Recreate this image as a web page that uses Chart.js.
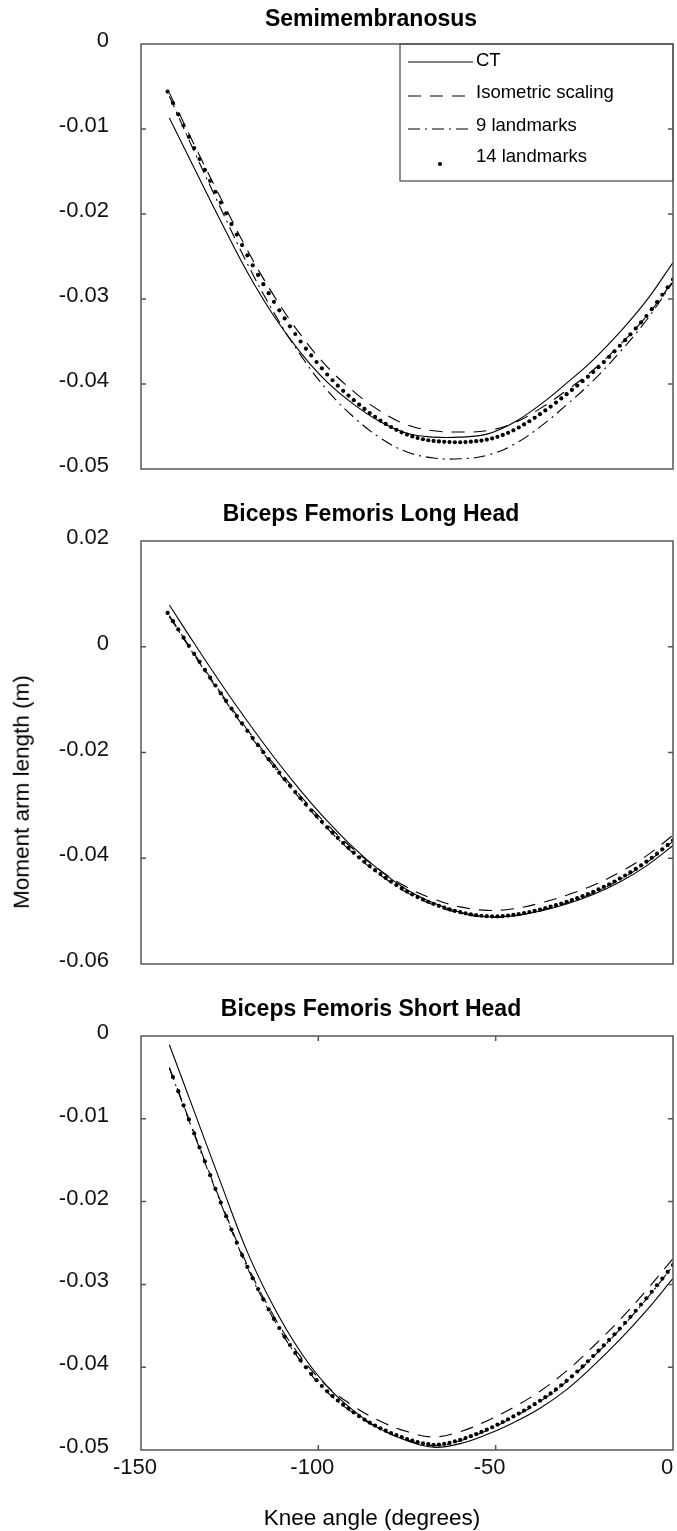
<!DOCTYPE html>
<html>
<head>
<meta charset="utf-8">
<title>Moment arm length vs knee angle</title>
<script src="https://cdn.jsdelivr.net/npm/chart.js@4.4.1/dist/chart.umd.min.js"></script>
<style>
  html, body { margin: 0; padding: 0; background: #fff; }
  body { width: 677px; height: 1531px; position: relative; overflow: hidden;
         font-family: "Liberation Sans", Arial, sans-serif; color: #000; }
  canvas { position: absolute; left: 0; }
  .lbl { position: absolute; white-space: nowrap; line-height: 1; transform: translate(-50%, -50%); }
  .ttl { left: 371px; font-size: 23px; font-weight: bold; }
  .axt { font-size: 22.5px; }
  .ylab { left: 22px; top: 792px; transform: translate(-50%, -50%) rotate(-90deg); }
</style>
</head>
<body>
<canvas id="semi" width="677" height="490" style="top:0"></canvas>
<canvas id="bflh" width="677" height="495" style="top:490px"></canvas>
<canvas id="bfsh" width="677" height="546" style="top:985px"></canvas>

<div class="lbl ttl" style="top:18px">Semimembranosus</div>
<div class="lbl ttl" style="top:513px">Biceps Femoris Long Head</div>
<div class="lbl ttl" style="top:1008px">Biceps Femoris Short Head</div>
<div class="lbl axt ylab">Moment arm length (m)</div>
<div class="lbl axt" style="left:372px; top:1518px">Knee angle (degrees)</div>

<script>
// knee angles (degrees) of the dotted "14 landmarks" samples
const dotAngles = [
  -142.5, -141, -139.5, -138, -136.5, -135, -133.5, -132, -130.5, -129, -127.5, -126,
  -124.5, -123, -121.5, -120, -118.5, -117, -115.5, -114, -112.5, -111, -109.5, -108,
  -106.5, -105, -103.5, -102, -100.5, -99, -97.5, -96, -94.5, -93, -91.5, -90,
  -88.5, -87, -85.5, -84, -82.5, -81, -79.5, -78, -76.5, -75, -73.5, -72,
  -70.5, -69, -67.5, -66, -64.5, -63, -61.5, -60, -58.5, -57, -55.5, -54,
  -52.5, -51, -49.5, -48, -46.5, -45, -43.5, -42, -40.5, -39, -37.5, -36,
  -34.5, -33, -31.5, -30, -28.5, -27, -25.5, -24, -22.5, -21, -19.5, -18,
  -16.5, -15, -13.5, -12, -10.5, -9, -7.5, -6, -4.5, -3, -1.5, 0
];
// knee angles of the points
const lineAngles = [-142, -135, -127.5, -120, -112.5, -105, -97.5, -90, -82.5, -75,
  -67.5, -60, -52.5, -45, -37.5, -30, -22.5, -15, -7.5, 0];

const seriesLabels = ['CT', 'Isometric scaling', '9 landmarks', '14 landmarks'];
const xTickValues = [-150, -100, -50, 0];

// Semimembranosus, moment arm in mm
const semiCT   = [-8.7, -14.59, -20.85, -26.86, -32.03, -36.3, -39.78, -42.4, -44.45, -45.8,
  -46.25, -46.25, -45.9, -44.55, -42.45, -39.9, -37.15, -33.9, -30.2, -25.7];
const semiIso  = [-5.75, -11.84, -18.15, -24.26, -29.63, -34.2, -37.98, -40.9, -43.2, -44.8,
  -45.5, -45.65, -45.5, -44.6, -42.9, -40.75, -38.35, -35.4, -32.05, -27.9];
const semiNine = [-6.15, -12.64, -19.35, -25.86, -31.63, -36.6, -40.73, -43.9, -46.35, -48.0,
  -48.7, -48.8, -48.4, -47.15, -45.05, -42.45, -39.6, -36.25, -32.5, -28.0];
const semiDots = [
  -5.60, -6.94, -8.27, -9.60, -10.92, -12.24, -13.53, -14.82, -16.10, -17.38, -18.65,
  -19.92, -21.18, -22.42, -23.65, -24.86, -26.04, -27.17, -28.26, -29.31, -30.33,
  -31.33, -32.29, -33.22, -34.12, -35.00, -35.84, -36.64, -37.41, -38.16, -38.88,
  -39.56, -40.20, -40.80, -41.36, -41.90, -42.43, -42.93, -43.41, -43.87, -44.30,
  -44.70, -45.06, -45.39, -45.69, -45.95, -46.17, -46.35, -46.50, -46.62, -46.70,
  -46.76, -46.80, -46.83, -46.85, -46.85, -46.83, -46.79, -46.73, -46.65, -46.55,
  -46.40, -46.21, -45.99, -45.74, -45.45, -45.12, -44.76, -44.38, -43.98, -43.55,
  -43.11, -42.65, -42.18, -41.70, -41.20, -40.70, -40.19, -39.67, -39.14, -38.60,
  -38.02, -37.42, -36.80, -36.16, -35.50, -34.84, -34.16, -33.46, -32.74, -32.00,
  -31.20, -30.36, -29.50, -28.62, -27.70
];
const semiYTicks = [-0.05, -0.04, -0.03, -0.02, -0.01, 0];

// Biceps femoris long head, mm
const longCT   = [7.9, 0.65, -6.90, -14.10, -20.90, -27.20, -32.95, -38.05, -42.40, -45.95,
  -48.47, -50.20, -51.05, -50.90, -50.00, -48.65, -46.85, -44.50, -41.45, -37.60];
const longIso  = [5.88, -1.30, -8.70, -15.70, -22.25, -28.25, -33.65, -38.35, -42.30, -45.50,
  -47.72, -49.20, -49.85, -49.55, -48.50, -47.00, -45.10, -42.65, -39.55, -35.65];
const longNine = [5.68, -1.55, -9.00, -16.10, -22.75, -28.85, -34.35, -39.15, -43.20, -46.50,
  -48.82, -50.40, -51.15, -50.90, -49.90, -48.45, -46.55, -44.05, -40.85, -36.80];
const longDots = [
  6.40, 4.83, 3.27, 1.72, 0.18, -1.35, -2.86, -4.36, -5.85, -7.33, -8.80,
  -10.25, -11.69, -13.11, -14.51, -15.90, -17.27, -18.62, -19.95, -21.26, -22.55,
  -23.82, -25.06, -26.28, -27.48, -28.65, -29.80, -30.92, -32.02, -33.10, -34.15,
  -35.17, -36.16, -37.12, -38.05, -38.95, -39.82, -40.66, -41.47, -42.25, -43.00,
  -43.72, -44.41, -45.07, -45.70, -46.30, -46.84, -47.34, -47.80, -48.23, -48.62,
  -49.00, -49.35, -49.66, -49.95, -50.20, -50.42, -50.60, -50.75, -50.87, -50.95,
  -50.99, -50.99, -50.94, -50.84, -50.70, -50.55, -50.37, -50.17, -49.95, -49.70,
  -49.44, -49.16, -48.87, -48.57, -48.25, -47.91, -47.55, -47.17, -46.77, -46.35,
  -45.90, -45.42, -44.92, -44.40, -43.85, -43.27, -42.66, -42.02, -41.35, -40.65,
  -39.91, -39.13, -38.32, -37.48, -36.60
];
const longYTicks = [-0.06, -0.04, -0.02, 0, 0.02];

// Biceps femoris short head, mm
const shortCT   = [-1.05, -9.11, -17.74, -26.10, -32.77, -38.17, -42.31, -45.27, -47.48, -48.87,
  -49.67, -49.23, -48.14, -46.70, -44.95, -42.70, -39.85, -36.68, -33.17, -29.27];
const shortIso  = [-3.80, -11.72, -20.02, -27.69, -33.87, -38.72, -42.31, -44.72, -46.53, -47.77,
  -48.42, -47.78, -46.49, -44.85, -42.90, -40.45, -37.50, -34.28, -30.72, -26.87];
const shortNine = [-3.90, -11.87, -20.22, -27.99, -34.27, -39.27, -43.01, -45.57, -47.48, -48.77,
  -49.47, -48.88, -47.64, -46.05, -44.15, -41.75, -38.75, -35.43, -31.77, -27.77];
const shortDots = [
  null, -4.95, -6.66, -8.37, -10.07, -11.77, -13.46, -15.14, -16.81, -18.47, -20.12,
  -21.76, -23.38, -24.96, -26.46, -27.89, -29.26, -30.57, -31.82, -33.02, -34.17,
  -35.27, -36.32, -37.32, -38.27, -39.17, -40.02, -40.82, -41.57, -42.27, -42.91,
  -43.49, -44.02, -44.52, -45.00, -45.47, -45.92, -46.33, -46.70, -47.05, -47.38,
  -47.67, -47.95, -48.21, -48.45, -48.67, -48.87, -49.05, -49.19, -49.30, -49.37,
  -49.35, -49.27, -49.14, -48.97, -48.78, -48.56, -48.33, -48.08, -47.82, -47.54,
  -47.25, -46.94, -46.62, -46.29, -45.95, -45.60, -45.23, -44.85, -44.46, -44.05,
  -43.62, -43.17, -42.68, -42.18, -41.65, -41.10, -40.52, -39.91, -39.28, -38.65,
  -38.01, -37.36, -36.70, -36.02, -35.33, -34.63, -33.91, -33.18, -32.43, -31.67,
  -30.89, -30.10, -29.30, -28.49, -27.67
];
const shortYTicks = [-0.05, -0.04, -0.03, -0.02, -0.01, 0];

const FONT = '"Liberation Sans", Arial, Helvetica, sans-serif';
const FRAME = '#555';

function toPoints(angles, mm) {
  const pts = [];
  angles.forEach((a, i) => {
    if (mm[i] !== null) pts.push({ x: a, y: mm[i] / 1000 });
  });
  return pts;
}

// box around the plot and inward tick marks, like the original figure
const frameTicks = {
  id: 'frameTicks',
  afterDatasetsDraw(chart, args, opts) {
    const { ctx, chartArea: a, scales: { x, y } } = chart;
    ctx.save();
    ctx.strokeStyle = FRAME;
    ctx.lineWidth = 1.5;
    ctx.beginPath();
    y.ticks.forEach(t => {
      const py = y.getPixelForValue(t.value);
      if (py < a.top + 2 || py > a.bottom - 2) return;
      ctx.moveTo(a.left, py); ctx.lineTo(a.left + 5, py);
      ctx.moveTo(a.right, py); ctx.lineTo(a.right - 5, py);
    });
    if (opts.xMarks) {
      x.ticks.forEach(t => {
        const px = x.getPixelForValue(t.value);
        if (px < a.left + 2 || px > a.right - 2) return;
        ctx.moveTo(px, a.top); ctx.lineTo(px, a.top + 5);
        ctx.moveTo(px, a.bottom); ctx.lineTo(px, a.bottom - 5);
      });
    }
    ctx.stroke();
    ctx.strokeRect(a.left, a.top, a.right - a.left, a.bottom - a.top);
    ctx.restore();
  }
};

// legend box in the upper right corner of the first panel
const boxLegend = {
  id: 'boxLegend',
  afterDraw(chart, args, opts) {
    if (!opts.show) return;
    const { ctx, chartArea: a } = chart;
    const left = a.right - 273, top = a.top;
    const lineY = [18, 52, 85, 120];
    const textY = [21.5, 54, 86.5, 117.5];
    ctx.save();
    ctx.strokeStyle = FRAME;
    ctx.lineWidth = 1.3;
    ctx.strokeRect(left, top, a.right - left, 137);
    ctx.font = '18.5px ' + FONT;
    ctx.fillStyle = '#000';
    ctx.textBaseline = 'alphabetic';
    chart.data.datasets.forEach((ds, i) => {
      const y = top + lineY[i];
      if (ds.showLine === false) {
        ctx.beginPath();
        ctx.arc(left + 40, y, 2.1, 0, Math.PI * 2);
        ctx.fill();
      } else {
        ctx.strokeStyle = '#000';
        ctx.lineWidth = 1.1;
        ctx.setLineDash(ds.borderDash || []);
        ctx.beginPath();
        ctx.moveTo(left + 8, y);
        ctx.lineTo(left + 73, y);
        ctx.stroke();
        ctx.setLineDash([]);
      }
      ctx.fillText(ds.label, left + 76, top + textY[i]);
    });
    ctx.restore();
  }
};

function makeDatasets(ct, iso, nine, dots) {
  const line = { borderColor: '#000', borderWidth: 1.1, pointRadius: 0, pointHoverRadius: 0, tension: 0.4, fill: false };
  return [
    { ...line, label: seriesLabels[0], data: toPoints(lineAngles, ct) },
    { ...line, label: seriesLabels[1], data: toPoints(lineAngles, iso), borderDash: [13, 9] },
    { ...line, label: seriesLabels[2], data: toPoints(lineAngles, nine), borderDash: [12, 5, 2, 5] },
    {
      label: seriesLabels[3], data: toPoints(dotAngles, dots), showLine: false,
      pointRadius: 2.1, pointBackgroundColor: '#000', pointBorderWidth: 0, borderColor: '#000'
    }
  ];
}

function drawPanel(id, ct, iso, nine, dots, yTicks, opt) {
  const tickFont = { family: FONT, size: 22 };
  new Chart(document.getElementById(id), {
    type: 'line',
    data: { datasets: makeDatasets(ct, iso, nine, dots) },
    options: {
      responsive: false,
      animation: false,
      events: [],
      layout: { padding: { top: opt.top, right: 0.5, left: 0, bottom: 0 } },
      plugins: {
        legend: { display: false },
        tooltip: { enabled: false },
        frameTicks: { xMarks: opt.xLabels },
        boxLegend: { show: opt.legend }
      },
      scales: {
        x: {
          type: 'linear',
          min: xTickValues[0],
          max: xTickValues[xTickValues.length - 1],
          grid: { display: false, drawTicks: false },
          border: { display: false },
          afterBuildTicks: s => { s.ticks = xTickValues.map(value => ({ value })); },
          ticks: { display: opt.xLabels, font: tickFont, color: '#111', padding: 5, labelOffset: -6, maxRotation: 0 },
          afterFit: s => { s.height = opt.xHeight; s.paddingLeft = 0; s.paddingRight = 0; }
        },
        y: {
          type: 'linear',
          min: yTicks[0],
          max: yTicks[yTicks.length - 1],
          grid: { display: false, drawTicks: false },
          border: { display: false },
          afterBuildTicks: s => { s.ticks = yTicks.map(value => ({ value })); },
          ticks: {
            font: tickFont, color: '#111', padding: 32, labelOffset: -3,
            callback: v => (Math.abs(v) < 1e-9 ? '0' : v.toFixed(2))
          },
          afterFit: s => { s.width = 141; s.paddingTop = 0; s.paddingBottom = 0; }
        }
      }
    },
    plugins: [frameTicks, boxLegend]
  });
}

drawPanel('semi', semiCT, semiIso, semiNine, semiDots, semiYTicks,
  { top: 44, xHeight: 21, xLabels: false, legend: true });
drawPanel('bflh', longCT, longIso, longNine, longDots, longYTicks,
  { top: 51, xHeight: 21, xLabels: false, legend: false });
drawPanel('bfsh', shortCT, shortIso, shortNine, shortDots, shortYTicks,
  { top: 51, xHeight: 81, xLabels: true, legend: false });
</script>
</body>
</html>
